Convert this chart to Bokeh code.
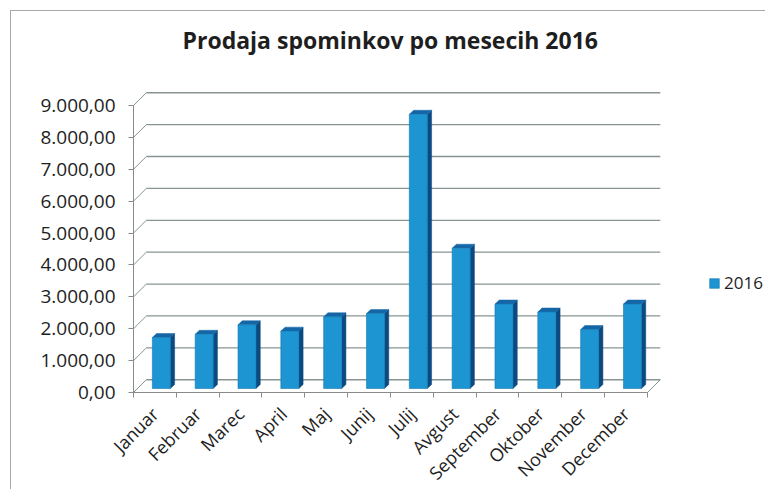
import numpy as np
from bokeh.plotting import figure
from bokeh.models import Range1d, FixedTicker, Legend, LegendItem
from bokeh.embed import file_html
from bokeh.resources import INLINE

months = ["Januar", "Februar", "Marec", "April", "Maj", "Junij", "Julij",
          "Avgust", "September", "Oktober", "November", "December"]
sales_2016 = [1600, 1700, 2000, 1800, 2250, 2350, 8600, 4400, 2650, 2400, 1850, 2650]
y_ticks = [0, 1000, 2000, 3000, 4000, 5000, 6000, 7000, 8000, 9000]
y_tick_labels = ["0,00", "1.000,00", "2.000,00", "3.000,00", "4.000,00",
                 "5.000,00", "6.000,00", "7.000,00", "8.000,00", "9.000,00"]
series_name = "2016"
title_text = "Prodaja spominkov po mesecih 2016"

FONT = "Open Sans"
TEXT = "#1e1e1e"
GRID = "#879494"
FRONT = "#1c95d2"
SIDE = "#0b4a80"
TOP = "#1566a6"
BORDER = "#a8a8a8"

n = len(months)
# pseudo-3D depth of back wall and bars (in data units)
wall_dx, wall_dy = 0.30, 400.0
bar_dx, bar_dy = 0.10, 125.0
bar_left_off, bar_w = 0.44, 0.42

W, H = 765, 489
ML, MR, MT = 28, 2, 60
AXIS_X = 133          # pixel column of the value axis line
AXIS_Y = 392          # pixel row of the category axis line
px_per_unit_x = 42.83
px_per_unit_y = 287.0 / 9000.0
x_start = -(AXIS_X - ML) / px_per_unit_x
x_end = (W - MR - AXIS_X) / px_per_unit_x
y_start = -(H - AXIS_Y) / px_per_unit_y
y_end = (AXIS_Y - MT) / px_per_unit_y

p = figure(width=W, height=H, output_backend="svg", toolbar_location=None,
           x_range=Range1d(x_start, x_end), y_range=Range1d(y_start, y_end),
           min_border_left=ML, min_border_right=MR, min_border_top=MT,
           min_border_bottom=0)
# thin chart-area border (left and top edges) drawn behind a transparent canvas
p.styles = {
    "background-color": "white",
    "background-image": f"linear-gradient({BORDER},{BORDER}), linear-gradient({BORDER},{BORDER})",
    "background-position": "10px 10px, 10px 10px",
    "background-size": "1px 100%, 100% 1px",
    "background-repeat": "no-repeat, no-repeat",
}
p.outline_line_color = None
p.xgrid.visible = False
p.ygrid.visible = False
p.background_fill_alpha = 0
p.border_fill_alpha = 0

p.title.text = title_text
p.title.align = "left"
p.title.offset = 182 - ML
p.title.text_font = FONT
p.title.text_font_size = "23px"
p.title.text_font_style = "bold"
p.title.text_color = TEXT
p.title.standoff = 10

# back wall grid lines and connectors
yt = np.array(y_ticks, dtype=float)
p.segment(x0=np.full(len(yt), wall_dx), y0=yt + wall_dy,
          x1=np.full(len(yt), n + wall_dx), y1=yt + wall_dy,
          line_color=GRID, line_width=1.3)
p.segment(x0=np.zeros(len(yt)), y0=yt, x1=np.full(len(yt), wall_dx), y1=yt + wall_dy,
          line_color=GRID, line_width=1.0)
p.segment(x0=[n], y0=[0], x1=[n + wall_dx], y1=[wall_dy], line_color=GRID, line_width=1.0)

# bars
xi = np.arange(n, dtype=float)
v = np.array(sales_2016, dtype=float)
left = xi + bar_left_off
right = left + bar_w
bottom = np.full(n, bar_dy)
top = bar_dy + v

side_xs = [[r, r + bar_dx, r + bar_dx, r] for r in right]
side_ys = [[b, b + bar_dy, t + bar_dy, t] for b, t in zip(bottom, top)]
p.patches(side_xs, side_ys, fill_color=SIDE, line_color=SIDE, line_width=0.5)
top_xs = [[l, l + bar_dx, r + bar_dx, r] for l, r in zip(left, right)]
top_ys = [[t, t + bar_dy, t + bar_dy, t] for t in top]
p.patches(top_xs, top_ys, fill_color=TOP, line_color=TOP, line_width=0.5)
front = p.quad(left=left, right=right, bottom=bottom, top=top,
               fill_color=FRONT, line_color="#1479b0", line_width=0.6)

# y axis pinned at x = 0; its labels sit inside the left part of the frame
p.yaxis.fixed_location = 0
p.yaxis.ticker = FixedTicker(ticks=y_ticks)
p.yaxis.major_label_overrides = {t: s for t, s in zip(y_ticks, y_tick_labels)}
p.yaxis.bounds = (0, y_ticks[-1])
p.yaxis.axis_line_color = "#8a8a8a"
p.yaxis.major_tick_line_color = "#8a8a8a"
p.yaxis.major_tick_out = 5
p.yaxis.major_tick_in = 0
p.yaxis.minor_tick_line_color = None
p.yaxis.major_label_standoff = 13
p.yaxis.major_label_text_font = FONT
p.yaxis.major_label_text_font_size = "19px"
p.yaxis.major_label_text_color = TEXT

# x axis pinned at value 0; its labels sit inside the lower part of the frame
centers = [i + 0.5 for i in range(n)]
p.xaxis.fixed_location = 0
p.xaxis.ticker = FixedTicker(ticks=centers, minor_ticks=list(range(n + 1)))
p.xaxis.major_label_overrides = {c: m for c, m in zip(centers, months)}
p.xaxis.bounds = (0, n)
p.xaxis.axis_line_color = "#8a8a8a"
p.xaxis.major_tick_line_color = None
p.xaxis.minor_tick_line_color = "#8a8a8a"
p.xaxis.minor_tick_out = 5
p.xaxis.minor_tick_in = 0
p.xaxis.major_label_orientation = np.pi / 4
p.xaxis.major_label_standoff = 12
p.xaxis.major_label_text_font = FONT
p.xaxis.major_label_text_font_size = "18px"
p.xaxis.major_label_text_color = TEXT

legend = Legend(items=[LegendItem(label=series_name, renderers=[front])],
                location=(708 - ML, 195), padding=0, margin=0, spacing=0,
                glyph_width=12, glyph_height=12, label_standoff=4,
                label_height=18, border_line_color=None,
                background_fill_alpha=0,
                label_text_font=FONT, label_text_font_size="17px",
                label_text_color=TEXT)
p.add_layout(legend, "center")

open("out.html", "w").write(file_html(p, INLINE))
